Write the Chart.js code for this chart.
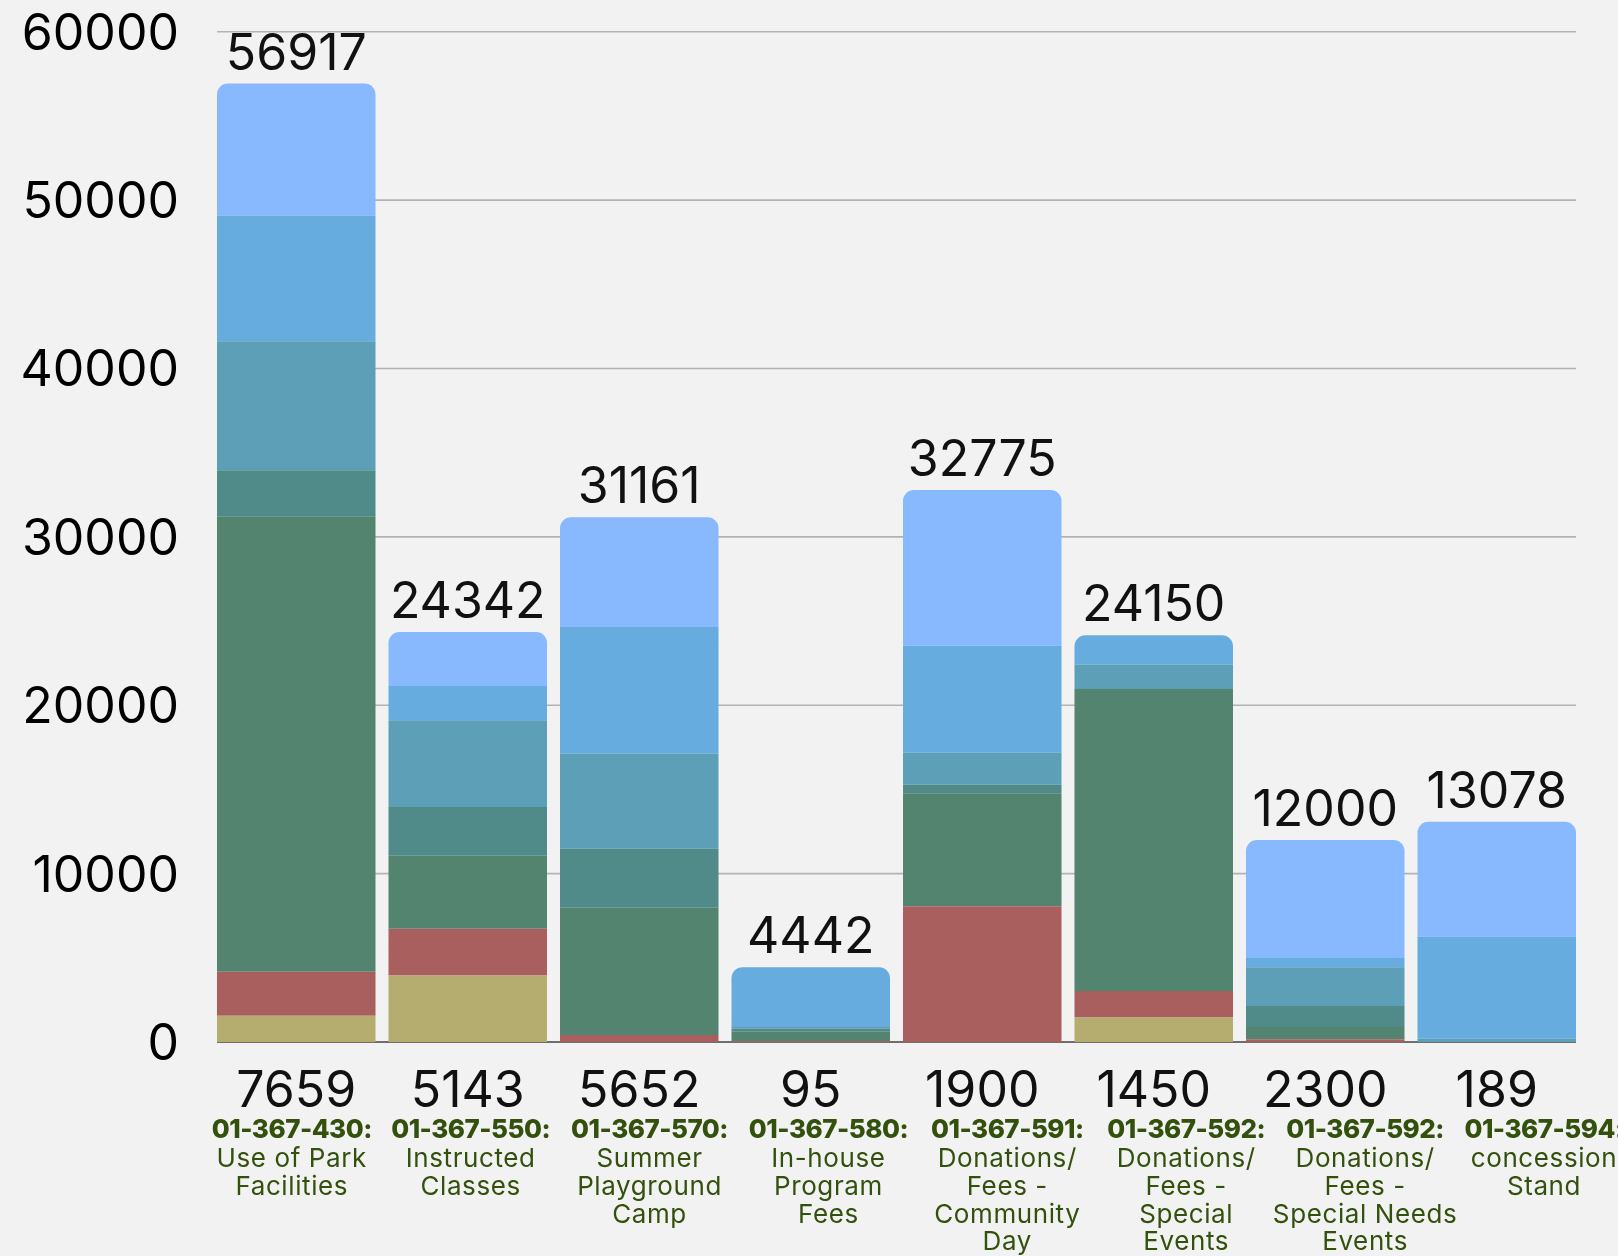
<!DOCTYPE html>
<html>
<head>
<meta charset="utf-8">
<script src="https://cdn.jsdelivr.net/npm/chart.js@4.4.1/dist/chart.umd.min.js"></script>
<style>
  html, body { margin: 0; padding: 0; background: #f2f2f2; }
  #wrap { width: 1618px; height: 1256px; position: relative; }
</style>
</head>
<body>
<div id="wrap"><canvas id="c"></canvas></div>
<script>
// ---- data ----
const codes = ['01-367-430:', '01-367-550:', '01-367-570:', '01-367-580:', '01-367-591:', '01-367-592:', '01-367-592:', '01-367-594:'];
const descriptions = [
  ['Use of Park', 'Facilities'],
  ['Instructed', 'Classes'],
  ['Summer', 'Playground', 'Camp'],
  ['In-house', 'Program', 'Fees'],
  ['Donations/', 'Fees -', 'Community', 'Day'],
  ['Donations/', 'Fees -', 'Special', 'Events'],
  ['Donations/', 'Fees -', 'Special Needs', 'Events'],
  ['concession', 'Stand']
];
// stacked series, bottom to top
const series1 = [1556, 3945, 0, 0, 0, 1455, 0, 0];
const series2 = [2609, 2780, 422, 60, 8067, 1569, 160, 0];
const series3 = [27053, 4331, 7556, 552, 6701, 17947, 731, 0];
const series4 = [2739, 2905, 3500, 184, 523, 0, 1248, 0];
const series5 = [7659, 5143, 5652, 95, 1900, 1450, 2300, 189];
const series6 = [7454, 2045, 7518, 3551, 6346, 1729, 551, 6067];
const series7 = [7847, 3193, 6513, 0, 9238, 0, 7010, 6822];
const yTicks = [0, 10000, 20000, 30000, 40000, 50000, 60000];

const seriesList = [series1, series2, series3, series4, series5, series6, series7];
const colors = ['#b4ad6f', '#aa5f5f', '#52846f', '#508a89', '#5c9fb7', '#66acdf', '#88b8fe'];
const numberFont = '400 50px Inter, "DejaVu Sans", sans-serif';
const labelColor = '#33500d';
const labelSpread = 1.0431;   // category labels are spaced slightly wider than bars
const labelShift = -4.5;

const overlay = {
  id: 'overlay',
  beforeDatasetsDraw(chart) {
    const ctx = chart.ctx;
    const y = chart.scales.y;
    const x = chart.scales.x;
    const meta = chart.getDatasetMeta(0);
    const w = meta.data[0].width;
    const left = x.getPixelForValue(0) - w / 2;
    const right = x.getPixelForValue(codes.length - 1) + w / 2;
    ctx.save();
    yTicks.forEach(v => {
      const py = y.getPixelForValue(v);
      if (v !== 0) {
        ctx.strokeStyle = '#b3b3b3';
        ctx.lineWidth = 1.6;
        ctx.beginPath(); ctx.moveTo(left, py); ctx.lineTo(right, py); ctx.stroke();
      }
      ctx.font = numberFont;
      ctx.fillStyle = '#000';
      ctx.textAlign = 'right';
      ctx.textBaseline = 'alphabetic';
      ctx.fillText(String(v), left - 38, py + 18);
    });
    const p0 = y.getPixelForValue(0);
    ctx.strokeStyle = '#6e6e6e';
    ctx.lineWidth = 2;
    ctx.beginPath(); ctx.moveTo(left, p0); ctx.lineTo(right, p0); ctx.stroke();
    ctx.restore();
  },
  afterDatasetsDraw(chart) {
    const ctx = chart.ctx;
    const y = chart.scales.y;
    const x = chart.scales.x;
    const x0 = x.getPixelForValue(0);
    ctx.save();
    codes.forEach((code, i) => {
      const total = seriesList.reduce((s, arr) => s + arr[i], 0);
      const cx = x.getPixelForValue(i);
      ctx.font = numberFont;
      ctx.fillStyle = '#111';
      ctx.textAlign = 'center';
      ctx.textBaseline = 'alphabetic';
      ctx.fillText(String(total), cx, y.getPixelForValue(total) - 14);
      ctx.fillText(String(series5[i]), cx, y.getPixelForValue(0) + 65);
      const lx = x0 + (cx - x0) * labelSpread + labelShift;
      ctx.fillStyle = labelColor;
      ctx.font = '800 26px Inter, "DejaVu Sans", sans-serif';
      ctx.letterSpacing = '-0.5px';
      ctx.fillText(code, lx, y.getPixelForValue(0) + 96);
      ctx.font = '400 26px Inter, "DejaVu Sans", sans-serif';
      ctx.letterSpacing = '0.6px';
      descriptions[i].forEach((line, k) => {
        ctx.fillText(line, lx, y.getPixelForValue(0) + 125 + k * 27.8);
      });
      ctx.letterSpacing = '0px';
    });
    ctx.restore();
  }
};

new Chart(document.getElementById('c'), {
  type: 'bar',
  data: {
    labels: codes,
    datasets: seriesList.map((arr, k) => ({
      label: 'Series ' + (k + 1),
      data: arr,
      backgroundColor: colors[k],
      borderWidth: 0,
      borderRadius: 11,
      categoryPercentage: 1,
      barPercentage: 0.9242
    }))
  },
  options: {
    responsive: true,
    maintainAspectRatio: false,
    animation: false,
    layout: { padding: { top: 31.7, right: 35.5, bottom: 214, left: 0 } },
    plugins: { legend: { display: false }, tooltip: { enabled: false } },
    scales: {
      x: { stacked: true, display: false },
      y: {
        stacked: true,
        min: 0,
        max: 60000,
        afterFit(scale) { scale.width = 210.5; },
        afterBuildTicks(scale) { scale.ticks = yTicks.map(v => ({ value: v })); },
        grid: { display: false, drawTicks: false },
        border: { display: false },
        ticks: { display: false }
      }
    }
  },
  plugins: [overlay]
});
</script>
</body>
</html>
